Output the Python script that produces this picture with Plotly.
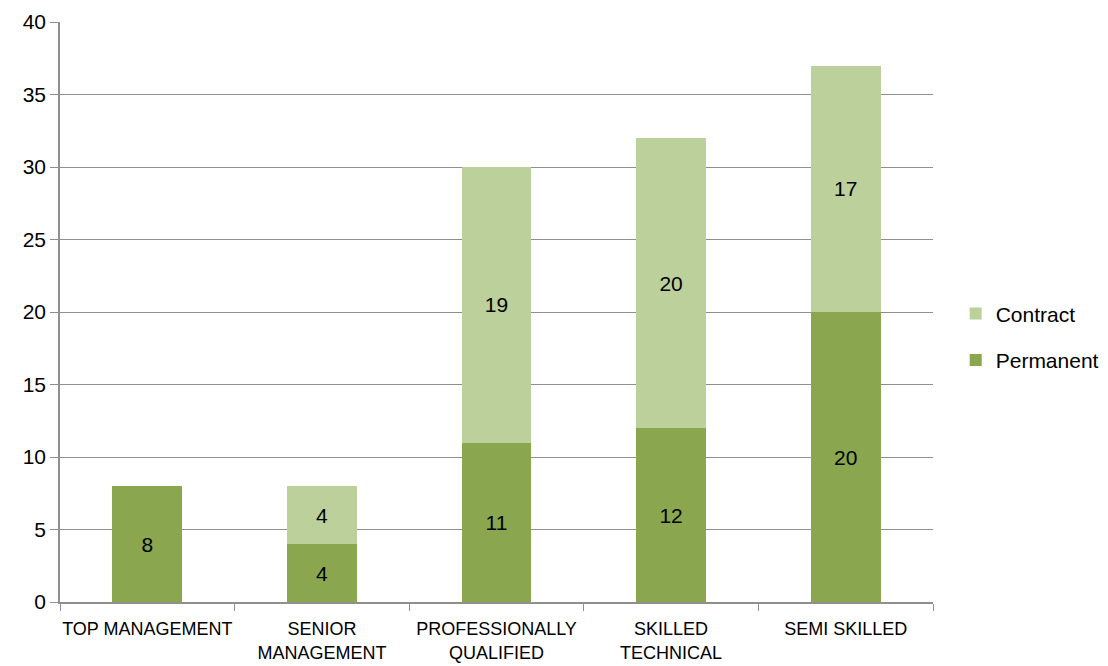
import plotly.graph_objects as go

categories = ["TOP MANAGEMENT", "SENIOR<br>MANAGEMENT", "PROFESSIONALLY<br>QUALIFIED",
              "SKILLED<br>TECHNICAL", "SEMI SKILLED"]
permanent = [8, 4, 11, 12, 20]
contract = [0, 4, 19, 20, 17]

FONT = "Liberation Sans, Arial, sans-serif"
PERM_COLOR = "#8AA64F"
CONT_COLOR = "#BBD09A"
GRID = "#8F8F8F"

fig = go.Figure()
fig.add_trace(go.Bar(
    name="Permanent", x=categories, y=permanent, legendgroup="p", legendrank=2,
    marker=dict(color=PERM_COLOR, line=dict(width=0)),
    text=[str(v) if v else "" for v in permanent],
    textposition="inside", insidetextanchor="middle", textangle=0,
    textfont=dict(family=FONT, size=21, color="black"),
))
fig.add_trace(go.Bar(
    name="Contract", x=categories, y=contract, legendgroup="c", legendrank=1,
    marker=dict(color=CONT_COLOR, line=dict(width=0)),
    text=[str(v) if v else "" for v in contract],
    textposition="inside", insidetextanchor="middle", textangle=0,
    textfont=dict(family=FONT, size=21, color="black"),
))

fig.update_layout(
    barmode="stack",
    bargap=0.6,
    width=1108, height=666,
    margin=dict(l=52, r=183, t=14, b=72, autoexpand=False),
    paper_bgcolor="white", plot_bgcolor="white",
    font=dict(family=FONT, size=21, color="black"),
    uniformtext=dict(minsize=21, mode="show"),
    legend=dict(
        traceorder="grouped",
        x=1.026, xanchor="left", y=0.457, yanchor="middle",
        font=dict(family=FONT, size=21, color="black"),
        itemwidth=30, tracegroupgap=16,
        bgcolor="rgba(0,0,0,0)",
    ),
)
fig.update_yaxes(
    range=[0, 40], tick0=0, dtick=5,
    showgrid=True, gridcolor=GRID, gridwidth=1.3,
    showline=True, linecolor=GRID, linewidth=1.5,
    ticks="outside", ticklen=8, tickcolor=GRID, tickwidth=1.3,
    tickfont=dict(family=FONT, size=21, color="black"),
    zeroline=False,
)
fig.update_xaxes(
    tickson="boundaries", tickangle=0,
    showline=True, linecolor=GRID, linewidth=1.5,
    ticks="outside", ticklen=7, tickcolor=GRID, tickwidth=1.3,
    tickfont=dict(family=FONT, size=18, color="black"),
    ticklabelstandoff=10,
    showgrid=False,
)

fig.write_html("out.html")
